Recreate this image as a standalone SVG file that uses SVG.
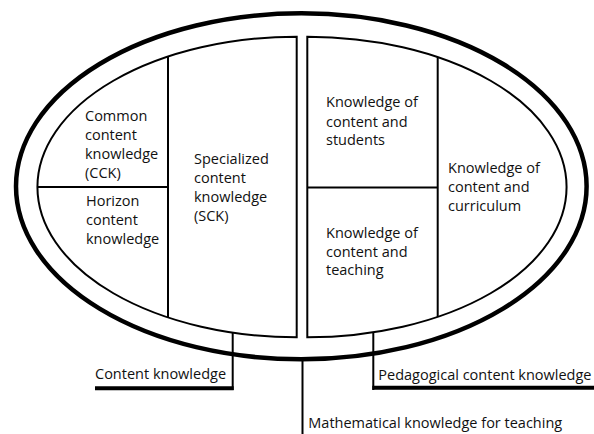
<svg xmlns="http://www.w3.org/2000/svg" width="594" height="434" viewBox="0 0 594 434">
<style>
.lbl{font-family:"Open Sans","Liberation Sans",sans-serif;font-size:14.5px;fill:#111}
.thin{fill:none;stroke:#000;stroke-width:2}
.thick{fill:none;stroke:#000;stroke-width:4.5}
.bar{fill:none;stroke:#000;stroke-width:4}
</style>
<rect width="594" height="434" fill="#fff"/>
<g id="mkt">
<ellipse class="thick" cx="301.3" cy="186.3" rx="285.3" ry="173"/>
</g>
<g id="ck-half">
<path class="thin" d="M296.7 36.7 A259.4 150.3 0 0 0 296.7 337.3 Z"/>
<line class="thin" x1="168" y1="56.5" x2="168" y2="317.5"/>
<line class="thin" x1="37.3" y1="187" x2="168" y2="187"/>
</g>
<g id="pck-half">
<path class="thin" d="M307.3 36.7 A259.4 150.3 0 0 1 307.3 337.3 Z"/>
<line class="thin" x1="437.7" y1="57.1" x2="437.7" y2="316.9"/>
<line class="thin" x1="307.3" y1="187.5" x2="437.7" y2="187.5"/>
</g>
<g id="cck">
<text class="lbl" x="85" y="120.7">Common</text>
<text class="lbl" x="85" y="140">content</text>
<text class="lbl" x="85" y="159.3">knowledge</text>
<text class="lbl" x="85" y="177.5">(CCK)</text>
</g>
<g id="hck">
<text class="lbl" x="86" y="206">Horizon</text>
<text class="lbl" x="86" y="225">content</text>
<text class="lbl" x="86" y="244">knowledge</text>
</g>
<g id="sck">
<text class="lbl" x="194" y="164">Specialized</text>
<text class="lbl" x="194" y="182.7">content</text>
<text class="lbl" x="194" y="201.7">knowledge</text>
<text class="lbl" x="194" y="220.5">(SCK)</text>
</g>
<g id="kcs">
<text class="lbl" x="326" y="107.3">Knowledge of</text>
<text class="lbl" x="326" y="126.7">content and</text>
<text class="lbl" x="326" y="145">students</text>
</g>
<g id="kct">
<text class="lbl" x="326" y="237.7">Knowledge of</text>
<text class="lbl" x="326" y="256.7">content and</text>
<text class="lbl" x="326" y="275">teaching</text>
</g>
<g id="kcc">
<text class="lbl" x="448" y="172.7">Knowledge of</text>
<text class="lbl" x="448" y="191.7">content and</text>
<text class="lbl" x="448" y="210.7">curriculum</text>
</g>
<g id="connectors">
<line class="thin" x1="232.7" y1="332.7" x2="232.7" y2="390"/>
<line class="bar" x1="95" y1="388.3" x2="233.7" y2="388.3"/>
<line class="thin" x1="373.3" y1="332.4" x2="373.3" y2="390"/>
<line class="bar" x1="372.3" y1="387.8" x2="594" y2="387.8"/>
<line class="thin" x1="302.5" y1="361" x2="302.5" y2="434"/>
</g>
<g id="labels">
<text class="lbl" x="95" y="379.3">Content knowledge</text>
<text class="lbl" x="378.3" y="380">Pedagogical content knowledge</text>
<text class="lbl" x="308.3" y="428.3">Mathematical knowledge for teaching</text>
</g>
</svg>
